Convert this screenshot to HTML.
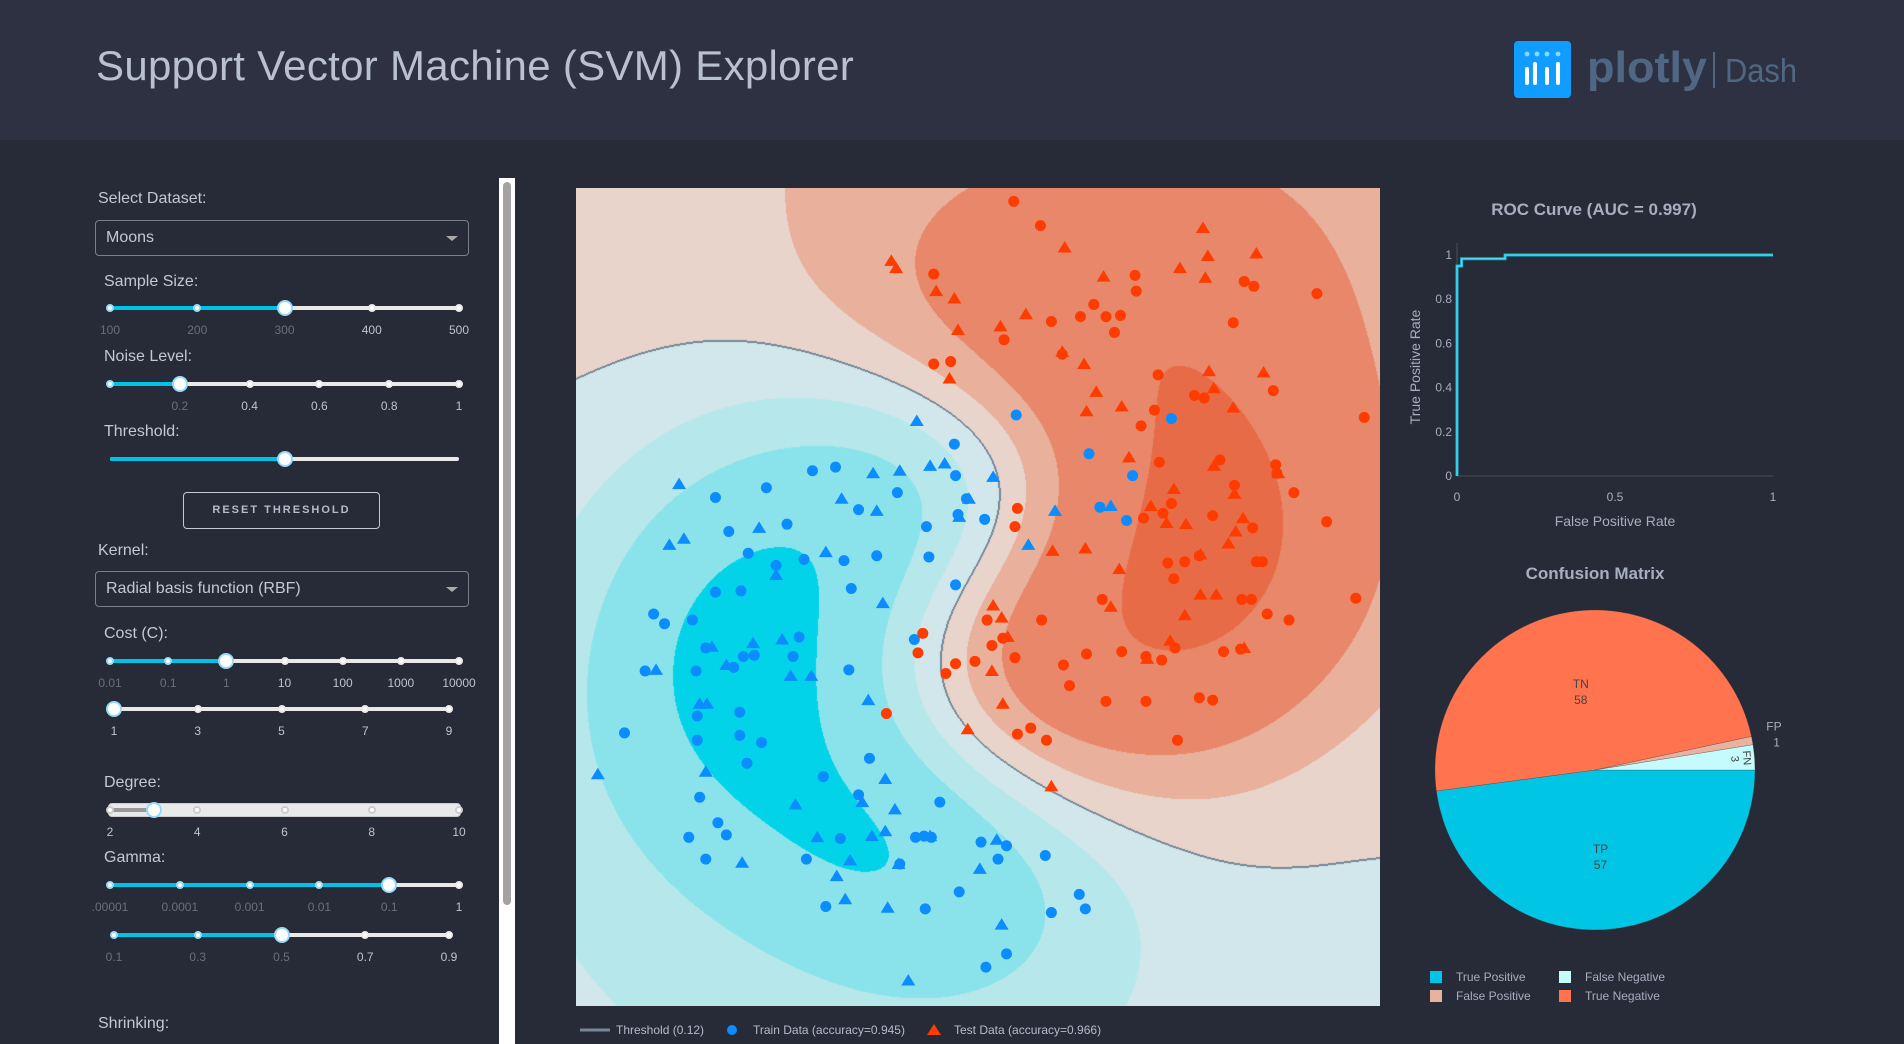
<!DOCTYPE html>
<html><head><meta charset="utf-8">
<style>
*{box-sizing:border-box;margin:0;padding:0}
body{width:1904px;height:1044px;overflow:hidden;background:#272a37;font-family:"Liberation Sans",sans-serif;position:relative}
.abs{position:absolute}
.lbl{position:absolute;color:#c3c8d4;font-size:16px;white-space:nowrap}
.dd{position:absolute;border:1px solid #7b7f8a;border-radius:4px;color:#c3c8d4;font-size:16px;padding-left:10px}
.dd .car{position:absolute;right:10px;top:50%;margin-top:-2px;width:0;height:0;border-left:6px solid transparent;border-right:6px solid transparent;border-top:5px solid #aaa}
.tick{position:absolute;font-size:12px;transform:translateX(-50%);white-space:nowrap}
</style></head>
<body>
<div class="abs" style="left:0;top:0;width:1904px;height:140px;background:#2d3142"></div>
<div class="abs" style="left:96px;top:42px;font-size:42px;color:#b9c0cf;letter-spacing:0.3px;white-space:nowrap">Support Vector Machine (SVM) Explorer</div>
<div class="abs" style="left:1514px;top:41px;width:300px;height:58px">
  <svg width="300" height="58">
    <rect x="0" y="0" width="57" height="57" rx="4" fill="#119dff"/>
    <circle cx="13" cy="13" r="2.4" fill="#7fdcff"/><circle cx="23" cy="13" r="2.4" fill="#7fdcff"/><circle cx="33" cy="13" r="2.4" fill="#7fdcff"/><circle cx="44" cy="13" r="2.4" fill="#7fdcff"/>
    <rect x="11" y="26" width="4" height="18" rx="2" fill="#fff"/><rect x="19" y="21" width="4" height="23" rx="2" fill="#fff"/><rect x="31" y="26" width="4" height="18" rx="2" fill="#fff"/><rect x="42" y="21" width="4" height="23" rx="2" fill="#fff"/>
    <text x="73" y="41" font-family="Liberation Sans" font-weight="bold" font-size="44" fill="#506784" textLength="120" lengthAdjust="spacingAndGlyphs">plotly</text>
    <rect x="199" y="11" width="2" height="36" fill="#506784"/>
    <text x="211" y="41" font-family="Liberation Sans" font-size="33" fill="#506784" textLength="72" lengthAdjust="spacingAndGlyphs">Dash</text>
  </svg>
</div>

<!-- left panel -->
<div class="lbl" style="left:98px;top:190px">Select Dataset:</div>
<div class="dd" style="left:95px;top:220px;width:374px;height:36px;line-height:34px">Moons<span class="car"></span></div>
<div class="lbl" style="left:104px;top:273px">Sample Size:</div>
<div class="lbl" style="left:104px;top:348px">Noise Level:</div>
<div class="lbl" style="left:104px;top:423px">Threshold:</div>
<div class="abs" style="left:183px;top:492px;width:197px;height:37px;border:1px solid #c3c8d4;border-radius:4px;color:#b4bbcc;font-size:11px;font-weight:bold;letter-spacing:2px;text-align:center;line-height:35px">RESET THRESHOLD</div>
<div class="lbl" style="left:98px;top:542px">Kernel:</div>
<div class="dd" style="left:95px;top:571px;width:374px;height:36px;line-height:34px">Radial basis function (RBF)<span class="car"></span></div>
<div class="lbl" style="left:104px;top:625px">Cost (C):</div>
<div class="lbl" style="left:104px;top:774px">Degree:</div>
<div class="lbl" style="left:104px;top:849px">Gamma:</div>
<div class="lbl" style="left:98px;top:1015px">Shrinking:</div>
<div id="sliders"></div>
<div class="abs" style="left:499px;top:178px;width:16px;height:866px;background:#fff"></div>
<div class="abs" style="left:503px;top:182px;width:8px;height:723px;background:#a3a3a3;border-radius:4px"></div>

<!-- main graph -->
<canvas id="contour" class="abs" width="804" height="818" style="left:576px;top:188px"></canvas>
<svg id="main" class="abs" width="804" height="818" style="left:576px;top:188px"></svg>
<svg id="mainLegend" class="abs" width="620" height="26" style="left:576px;top:1017px">
  <line x1="4" y1="13" x2="34" y2="13" stroke="#778797" stroke-width="3"/>
  <text x="40" y="17" font-size="12" fill="#b4bbcc" font-family="Liberation Sans">Threshold (0.12)</text>
  <circle cx="156" cy="13" r="5" fill="#0b8cff"/>
  <text x="177" y="17" font-size="12" fill="#b4bbcc" font-family="Liberation Sans">Train Data (accuracy=0.945)</text>
  <polygon points="358,7 365,18 351,18" fill="#ff3c00"/>
  <text x="378" y="17" font-size="12" fill="#b4bbcc" font-family="Liberation Sans">Test Data (accuracy=0.966)</text>
</svg>

<!-- ROC -->
<svg id="roc" class="abs" width="440" height="370" style="left:1380px;top:180px"></svg>
<!-- Pie -->
<svg id="pie" class="abs" width="440" height="484" style="left:1380px;top:560px"></svg>

<script>
// ---------- main scatter data (x, y in feature space) ----------
const blueTrainX=[1.12,-0.05,0.14,-0.43,-0.85,0.65,1.13,1.22,1.15,-0.74,-0.26,0.33,0.89,-0.58,-0.12,-0.35,0.21,0.48,0.91,0.27,1.13,-0.64,-0.85,-1.36,-1.27,-1.04,-0.93,-0.62,-1.43,-1.01,-0.70,-0.53,-0.21,-0.65,-1.60,-1.00,-0.65,-0.47,-0.59,-1.00,0.04,0.42,-0.98,0.33,1.00,-0.76,-1.07,-0.83,-0.93,-0.10,0.18,0.80,0.87,0.93,1.34,1.55,1.48,1.87,1.16,0.88,0.06,0.67,2.15,2.20,1.92,1.55,1.38,2.91,2.23,2.59,2.32,2.54,1.63,1.37,0.79,0.25,-0.16];
const blueTrainY=[1.26,1.04,1.07,0.90,0.82,0.86,1.00,0.81,0.68,0.54,0.60,0.72,0.58,0.36,0.31,0.26,0.30,0.34,0.33,0.07,0.10,0.05,0.04,-0.14,-0.22,-0.19,-0.42,-0.49,-0.61,-0.61,-0.58,-0.48,-0.49,-0.95,-1.12,-0.98,-1.14,-1.20,-1.37,-1.18,-1.48,-1.33,-1.65,-1.63,-1.69,-1.96,-1.98,-1.86,-2.16,-2.16,-1.99,-1.98,-1.97,-1.98,-2.02,-2.05,-2.16,-2.13,-2.43,-2.57,-2.55,-2.20,-2.45,-2.57,-2.60,-2.94,-3.05,1.47,1.18,1.00,0.74,0.63,1.50,0.64,-0.35,-0.60,-0.33];
const blueTestX=[0.81,-1.15,-0.49,0.19,0.45,0.67,0.92,1.04,1.44,1.24,1.16,0.48,-1.11,-1.23,0.06,-0.35,1.73,1.95,2.41,0.53,-0.88,-0.54,-0.30,-0.76,-1.34,-0.06,-0.23,-0.98,-0.92,-0.93,-1.82,0.41,0.55,-0.19,0.63,0.36,-0.01,0.44,0.55,0.26,0.15,0.22,-0.63,0.92,1.47,1.33,0.57,0.74,1.51,0.66];
const blueTestY=[1.45,0.93,0.57,0.81,1.02,1.04,1.08,1.10,0.99,0.81,0.66,0.71,0.48,0.43,0.37,0.18,0.43,0.71,0.75,-0.05,-0.41,-0.38,-0.35,-0.56,-0.60,-0.65,-0.65,-0.88,-0.88,-1.44,-1.46,-0.85,-1.50,-1.71,-1.75,-1.69,-1.98,-1.97,-1.93,-2.17,-2.30,-2.49,-2.19,-1.97,-2.00,-2.24,-2.56,-3.16,-2.70,-2.20];
const redTrainX=[1.61,1.83,0.95,2.61,2.62,2.27,2.37,3.51,3.59,4.11,2.44,1.92,2.16,2.49,3.42,1.53,0.95,1.09,2.01,2.80,3.10,3.18,2.77,3.75,4.50,2.66,1.64,1.62,2.81,3.31,3.77,3.78,3.92,3.43,2.91,2.84,2.68,3.25,3.58,4.19,2.88,3.02,3.61,3.66,3.14,4.43,3.49,3.57,2.34,2.93,3.88,3.70,1.84,1.39,1.52,1.43,0.86,0.82,1.62,2.50,2.94,2.70,3.34,2.21,2.83,2.02,1.29,1.13,1.05,2.07,3.48,3.14,3.25,2.37,2.70,0.56,1.75,1.88,1.64,2.96];
const redTrainY=[3.26,3.06,2.66,2.65,2.52,2.41,2.31,2.60,2.56,2.50,2.18,2.27,2.31,2.32,2.26,2.12,1.92,1.94,2.00,1.83,1.66,1.64,1.54,1.70,1.48,1.41,0.73,0.58,1.11,1.13,1.09,1.02,0.86,0.92,0.77,0.69,0.65,0.67,0.57,0.62,0.28,0.29,0.29,0.29,0.34,-0.01,-0.02,-0.02,-0.02,0.15,-0.19,-0.14,-0.19,-0.19,-0.34,-0.40,-0.30,-0.46,-0.50,-0.45,-0.42,-0.49,-0.45,-0.47,-0.52,-0.56,-0.53,-0.55,-0.63,-0.73,-0.43,-0.83,-0.85,-0.86,-0.86,-0.96,-1.08,-1.18,-1.13,-1.18];
const redTestX=[0.60,0.64,3.17,2.03,2.35,3.21,3.61,2.98,3.19,0.97,1.12,1.71,1.50,1.15,2.01,2.19,3.22,3.67,1.08,2.29,2.50,3.42,3.26,2.21,2.56,3.26,3.79,3.43,2.93,2.74,3.44,3.03,2.87,3.38,3.15,3.50,1.93,2.20,2.48,3.28,2.41,1.44,1.51,1.56,2.90,3.02,2.71,3.51,1.43,1.52,1.23,1.92,3.15];
const redTestY=[2.77,2.71,3.04,2.88,2.64,2.81,2.83,2.71,2.63,2.52,2.46,2.33,2.23,2.20,2.02,1.92,1.86,1.85,1.80,1.69,1.57,1.56,1.72,1.53,1.15,1.08,1.02,0.85,0.89,0.75,0.54,0.60,0.61,0.44,0.35,0.65,0.38,0.40,0.23,0.02,-0.08,-0.07,-0.17,-0.33,-0.36,-0.15,-0.51,-0.42,-0.61,-0.88,-1.09,-1.56,0.02];
const xDomain=[-2.0,4.63];
const yDomain=[-3.37,3.37];
const contourLevels=[-0.86,-0.45,-0.2,0,0.17,0.38,0.88];
const bandColors=['#03d3e8','#8ae3ea','#b6e8eb','#d2e7eb','#e8d4cb','#e9b09c','#e8876a','#e86b48'];
const thresholdLevel=0;

// ---------- ROC data ----------
const rocFpr=[0,0,0.0145,0.0145,0.152,0.152,1];
const rocTpr=[0,0.95,0.95,0.983,0.983,1,1];
const rocTicks=[0,0.2,0.4,0.6,0.8,1];
const rocXTicks=[0,0.5,1];

// ---------- Confusion data ----------
const pieLabels=['TP','TN','FP','FN'];
const pieValues=[57,58,1,3];
const pieColors=['#00c5e4','#ff744f','#e9b29e','#c6fbfd'];
const pieLegend=['True Positive','False Positive','False Negative','True Negative'];

const NS='http://www.w3.org/2000/svg';
function mk(tag,attrs,parent){const e=document.createElementNS(NS,tag);for(const k in attrs)e.setAttribute(k,attrs[k]);parent.appendChild(e);return e;}

const W=804,H=818;
function sx(x){return (x-xDomain[0])/(xDomain[1]-xDomain[0])*W;}
function sy(y){return H-(y-yDomain[0])/(yDomain[1]-yDomain[0])*H;}

const allX=[],allY=[],allL=[];
blueTrainX.forEach((v,i)=>{allX.push(v);allY.push(blueTrainY[i]);allL.push(-1);});
blueTestX.forEach((v,i)=>{allX.push(v);allY.push(blueTestY[i]);allL.push(-1);});
redTrainX.forEach((v,i)=>{allX.push(v);allY.push(redTrainY[i]);allL.push(1);});
redTestX.forEach((v,i)=>{allX.push(v);allY.push(redTestY[i]);allL.push(1);});
(function(){
  const step=4,gw=Math.ceil(W/step)+2,gh=Math.ceil(H/step)+2;
  const g=new Float32Array(gw*gh);const s2=2*0.8*0.8;
  let mx=0,mn=0;
  for(let j=0;j<gh;j++){for(let i=0;i<gw;i++){
    const x=xDomain[0]+(i*step)/W*(xDomain[1]-xDomain[0]);
    const y=yDomain[1]-(j*step)/H*(yDomain[1]-yDomain[0]);
    let f=0;for(let k=0;k<allX.length;k++){const dx=x-allX[k],dy=y-allY[k];f+=allL[k]*Math.exp(-(dx*dx+dy*dy)/s2);}
    g[j*gw+i]=f;if(f>mx)mx=f;if(f<mn)mn=f;
  }}
  for(let j=0;j<gh;j++){for(let i=0;i<gw;i++){
    const x=xDomain[0]+(i*step)/W*(xDomain[1]-xDomain[0]);
    const y=yDomain[1]-(j*step)/H*(yDomain[1]-yDomain[0]);
    const f=g[j*gw+i];g[j*gw+i]=(f>0?f/mx:-f/mn)+0.04*(y+0.4*x);
  }}
  const cv=document.getElementById('contour');const ctx=cv.getContext('2d');
  const img=ctx.createImageData(W,H);const rgb=bandColors.map(c=>[parseInt(c.substr(1,2),16),parseInt(c.substr(3,2),16),parseInt(c.substr(5,2),16)]);
  const val=new Float32Array(W*H);
  for(let py=0;py<H;py++){const gy=py/step,j=Math.floor(gy),ty=gy-j;
    for(let px=0;px<W;px++){const gx=px/step,i=Math.floor(gx),tx=gx-i;
      const a=g[j*gw+i],b=g[j*gw+i+1],c=g[(j+1)*gw+i],d=g[(j+1)*gw+i+1];
      val[py*W+px]=(a*(1-tx)+b*tx)*(1-ty)+(c*(1-tx)+d*tx)*ty;}}
  for(let p=0;p<W*H;p++){const v=val[p];let b=0;while(b<contourLevels.length&&v>contourLevels[b])b++;
    const px=p%W,py=(p/W)|0;let col=rgb[b];
    const s=v>thresholdLevel;
    let edge=false;
    if(px<W-1&&((val[p+1]>thresholdLevel)!==s))edge=true;
    if(py<H-1&&((val[p+W]>thresholdLevel)!==s))edge=true;
    if(px>0&&((val[p-1]>thresholdLevel)!==s))edge=true;
    if(py>0&&((val[p-W]>thresholdLevel)!==s))edge=true;
    if(edge)col=[119,135,151];
    img.data[p*4]=col[0];img.data[p*4+1]=col[1];img.data[p*4+2]=col[2];img.data[p*4+3]=255;}
  ctx.putImageData(img,0,0);
})();

const main=document.getElementById('main');
function circ(xs,ys,color,name){xs.forEach((x,i)=>{const c=mk('circle',{cx:sx(x),cy:sy(ys[i]),r:5.5,fill:color},main);
  
  });}
function tri(xs,ys,color,name){xs.forEach((x,i)=>{const cx=sx(x),cy=sy(ys[i]);const t=mk('polygon',{points:`${cx},${cy-6.5} ${cx+7},${cy+5} ${cx-7},${cy+5}`,fill:color},main);
  
  });}
circ(blueTrainX,blueTrainY,'#0b8cff','train-point-blue');
circ(redTrainX,redTrainY,'#ff3c00','train-point-red');
tri(blueTestX,blueTestY,'#0b8cff','test-point-blue');
tri(redTestX,redTestY,'#ff3c00','test-point-red');

// ----- ROC -----
const roc=document.getElementById('roc');
const rx=v=>77+v*316, ry=v=>296-v*221;
mk('text',{x:214,y:35,'text-anchor':'middle','font-size':17,'font-weight':'bold',fill:'#a7aec0','font-family':'Liberation Sans'},roc).textContent='ROC Curve (AUC = 0.997)';
mk('line',{x1:rx(0),y1:ry(0),x2:rx(1),y2:ry(0),stroke:'#4a4d57','stroke-width':1},roc);
mk('line',{x1:rx(0),y1:ry(0),x2:rx(0),y2:63,stroke:'#4a4d57','stroke-width':1},roc);
rocTicks.forEach(t=>{const e=mk('text',{x:72,y:ry(t)+4,'text-anchor':'end','font-size':12,fill:'#a7aec0','font-family':'Liberation Sans'},roc);e.textContent=String(t);
  
  });
rocXTicks.forEach(t=>{const e=mk('text',{x:rx(t),y:321,'text-anchor':'middle','font-size':12,fill:'#a7aec0','font-family':'Liberation Sans'},roc);e.textContent=String(t);
  
  });
mk('text',{x:235,y:346,'text-anchor':'middle','font-size':14,fill:'#a7aec0','font-family':'Liberation Sans'},roc).textContent='False Positive Rate';
mk('text',{x:0,y:0,'text-anchor':'middle','font-size':14,fill:'#a7aec0','font-family':'Liberation Sans',transform:'translate(40,187) rotate(-90)'},roc).textContent='True Positive Rate';
const rocPts=rocFpr.map((f,i)=>rx(f)+','+ry(rocTpr[i])).join(' ');
const rl=mk('polyline',{points:rocPts,fill:'none',stroke:'#13b5d0','stroke-width':3},roc);


mk('polyline',{points:rocPts,fill:'none',stroke:'#5fe3f5','stroke-width':1},roc);

// ----- Pie -----
const pie=document.getElementById('pie');
mk('text',{x:215,y:19,'text-anchor':'middle','font-size':17,'font-weight':'bold',fill:'#a7aec0','font-family':'Liberation Sans'},pie).textContent='Confusion Matrix';
const pcx=215,pcy=210,pr=160;const tot=pieValues.reduce((a,b)=>a+b,0);
let ang=0;
pieValues.forEach((v,i)=>{const a0=ang,a1=ang+v/tot*2*Math.PI;ang=a1;
  const x0=pcx+pr*Math.cos(a0),y0=pcy+pr*Math.sin(a0),x1=pcx+pr*Math.cos(a1),y1=pcy+pr*Math.sin(a1);
  const large=(a1-a0)>Math.PI?1:0;
  const p=mk('path',{d:`M${pcx},${pcy} L${x0},${y0} A${pr},${pr} 0 ${large} 1 ${x1},${y1} Z`,fill:pieColors[i],stroke:'#444',"stroke-width":0.3},pie);
  
  
  const am=(a0+a1)/2;
  if(v/tot>0.1){const lx=pcx+pr*0.52*Math.cos(am),ly=pcy+pr*0.52*Math.sin(am);
    mk('text',{x:lx,y:ly,'text-anchor':'middle','font-size':12,fill:'#444','font-family':'Liberation Sans'},pie).textContent=pieLabels[i];
    mk('text',{x:lx,y:ly+16,'text-anchor':'middle','font-size':12,fill:'#444','font-family':'Liberation Sans'},pie).textContent=String(v);}
  else if(v/tot<0.02){const lx=pcx+pr*1.07*Math.cos(am),ly=pcy+pr*1.07*Math.sin(am);
    mk('text',{x:lx+3,y:ly-8,'text-anchor':'start','font-size':12,fill:'#a7aec0','font-family':'Liberation Sans'},pie).textContent=pieLabels[i];
    mk('text',{x:lx+10,y:ly+8,'text-anchor':'start','font-size':12,fill:'#a7aec0','font-family':'Liberation Sans'},pie).textContent=String(v);}
  else{const lx=pcx+pr*0.93*Math.cos(am),ly=pcy+pr*0.93*Math.sin(am);const deg=am*180/Math.PI+90;
    mk('text',{x:0,y:0,'text-anchor':'middle','font-size':11,fill:'#444','font-family':'Liberation Sans',transform:`translate(${lx},${ly}) rotate(${deg})`},pie).textContent=pieLabels[i];
    mk('text',{x:0,y:12,'text-anchor':'middle','font-size':11,fill:'#444','font-family':'Liberation Sans',transform:`translate(${lx},${ly}) rotate(${deg})`},pie).textContent=String(v);}
});
const legCols=['#00c5e4','#e9b29e','#c6fbfd','#ff744f'];
pieLegend.forEach((t,i)=>{const col=i<2?0:1,row=i%2;const x=50+col*129,y=411+row*19;
  const r=mk('rect',{x:x,y:y,width:12,height:12,fill:legCols[i]},pie);
  
  
  const e=mk('text',{x:x+26,y:y+10,'font-size':12,fill:'#a7aec0','font-family':'Liberation Sans'},pie);e.textContent=t;
  
  });

// ----- sliders -----
const sliderHost=document.getElementById('sliders');
function slider(name,y,x0,x1,labels,handleFrac,fill,disabled){
  const wrap=document.createElement('div');wrap.className='abs';
  
  
  wrap.style.cssText=`left:${x0-10}px;top:${y-12}px;width:${x1-x0+20}px;height:40px`;
  const w=x1-x0;
  let html='';
  if(disabled){html+=`<div style="position:absolute;left:8px;top:5px;width:${w+4}px;height:14px;background:#e9e9e9;border-radius:4px;border:1px solid #ccc"></div>`;
    html+=`<div style="position:absolute;left:12px;top:10px;width:${handleFrac*w}px;height:4px;background:#999"></div>`;}
  else{html+=`<div style="position:absolute;left:10px;top:10px;width:${w}px;height:4px;background:#e9e9e9;border-radius:2px"></div>`;
    if(fill)html+=`<div style="position:absolute;left:10px;top:10px;width:${handleFrac*w}px;height:4px;background:#00c2e6;border-radius:2px"></div>`;}
  const n=labels.length;
  labels.forEach((l,i)=>{const f=n>1?i/(n-1):0;const inR=fill&&f<=handleFrac;
    const bc=disabled?'#ccc':(inR?'#95dcf7':'#e9e9e9');
    html+=`<div style="position:absolute;left:${10+f*w-4}px;top:8px;width:8px;height:8px;border-radius:4px;background:#fff;border:2px solid ${bc}"></div>`;
    html+=`<div class="tick" style="left:${10+f*w}px;top:27px;color:${inR?'#6b6f7b':'#bfc3cc'}">${l}</div>`;});
  html+=`<div style="position:absolute;left:${10+handleFrac*w-8}px;top:4px;width:16px;height:16px;border-radius:8px;background:#fff;border:2px solid #96dbfa"></div>`;
  wrap.innerHTML=html;sliderHost.appendChild(wrap);
}
slider('sample-size-slider',308,110,459,['100','200','300','400','500'],0.5,true,false);
slider('noise-level-slider',384,110,459,['','0.2','0.4','0.6','0.8','1'],0.2,true,false);
slider('threshold-slider',459,110,459,[],0.5,true,false);
slider('cost-coef-slider',661,110,459,['0.01','0.1','1','10','100','1000','10000'],2/6,true,false);
slider('cost-power-slider',709,114,449,['1','3','5','7','9'],0,false,false);
slider('degree-slider',810,110,459,['2','4','6','8','10'],0.125,false,true);
slider('gamma-coef-slider',885,110,459,['.00001','0.0001','0.001','0.01','0.1','1'],0.8,true,false);
slider('gamma-power-slider',935,114,449,['0.1','0.3','0.5','0.7','0.9'],0.5,true,false);
</script>
</body></html>
